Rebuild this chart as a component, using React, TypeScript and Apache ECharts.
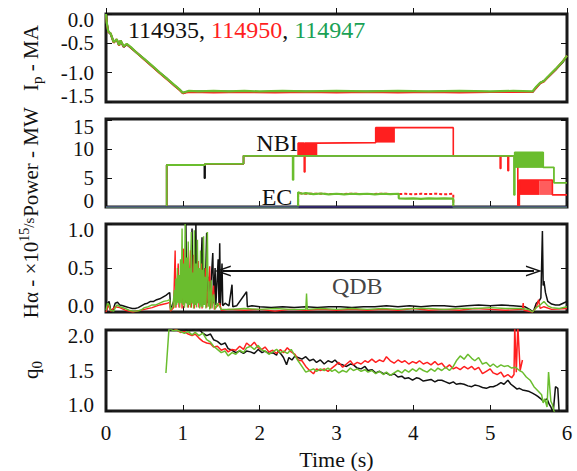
import React, { useEffect, useRef } from "react";
import * as echarts from "echarts";

const FONT = '"Liberation Serif", "Times New Roman", serif';
const BLACK = "#111111";
const RED = "#ff1f1f";
const GREEN = "#6abd2e";
const GREEN_TEXT = "#1aa155";

const shots = ["114935", "114950", "114947"];
const xTicks = [0, 1, 2, 3, 4, 5, 6];

// Panel 1: plasma current (MA)
const ip114935 = [[0,0],[0.01,-0.16],[0.03,-0.3],[0.06,-0.34],[0.1,-0.48],[0.14,-0.44],[0.17,-0.53],[0.19,-0.46],[0.23,-0.56],[0.27,-0.52],[0.32,-0.57],[0.4,-0.66],[0.5,-0.77],[0.6,-0.89],[0.7,-1.0],[0.8,-1.11],[0.9,-1.23],[0.96,-1.29],[1.0,-1.35],[1.04,-1.33],[1.1,-1.32],[1.5,-1.32],[2.0,-1.33],[2.5,-1.32],[3.0,-1.33],[3.5,-1.32],[4.0,-1.33],[4.5,-1.32],[5.0,-1.33],[5.55,-1.33],[5.6,-1.25],[5.65,-1.18],[5.7,-1.14],[5.75,-1.08],[5.85,-0.95],[5.95,-0.81],[6.0,-0.72]];
const ip114950 = [[0,0],[0.01,-0.15],[0.03,-0.31],[0.06,-0.33],[0.1,-0.49],[0.14,-0.43],[0.17,-0.54],[0.19,-0.45],[0.23,-0.56],[0.27,-0.51],[0.32,-0.57],[0.4,-0.66],[0.5,-0.78],[0.6,-0.89],[0.7,-1.01],[0.8,-1.12],[0.9,-1.23],[0.96,-1.3],[1.0,-1.35],[1.04,-1.34],[1.1,-1.33],[1.4,-1.34],[1.8,-1.33],[2.2,-1.34],[2.6,-1.33],[3.0,-1.34],[3.4,-1.33],[3.8,-1.34],[4.2,-1.33],[4.6,-1.34],[5.0,-1.33],[5.55,-1.33],[5.6,-1.26],[5.65,-1.18],[5.7,-1.15],[5.75,-1.08],[5.85,-0.95],[5.95,-0.8],[6.0,-0.71]];
const ip114947 = [[0,0],[0.01,-0.15],[0.03,-0.3],[0.06,-0.33],[0.1,-0.48],[0.14,-0.43],[0.17,-0.53],[0.19,-0.45],[0.23,-0.55],[0.27,-0.51],[0.32,-0.56],[0.4,-0.66],[0.5,-0.77],[0.6,-0.88],[0.7,-1.0],[0.8,-1.11],[0.9,-1.22],[0.96,-1.29],[1.0,-1.34],[1.03,-1.33],[1.08,-1.31],[1.2,-1.32],[1.4,-1.31],[1.6,-1.32],[1.8,-1.31],[2.0,-1.32],[2.3,-1.31],[2.6,-1.32],[3.0,-1.31],[3.4,-1.32],[3.8,-1.31],[4.2,-1.32],[4.6,-1.31],[5.0,-1.32],[5.3,-1.31],[5.55,-1.32],[5.6,-1.24],[5.65,-1.17],[5.7,-1.14],[5.75,-1.07],[5.85,-0.94],[5.95,-0.8],[6.0,-0.71]];

// Panel 2: heating power (MW)
const nbi114935 = [[0,0],[0.79,0],[0.79,7.3],[1.28,7.3],[1.28,5.0],[1.29,5.0],[1.29,7.5],[1.79,7.5],[1.79,8.9],[5.31,8.9]];
const nbi114950 = [[0,0],[0.79,0],[0.79,7.3],[1.29,7.3],[1.29,7.5],[1.79,7.5],[1.79,8.9],[2.5,8.9],[2.5,11.1],[2.58,11.1],[2.58,6.1],[2.59,6.1],[2.59,11.1],[2.75,11.1],[2.75,11.2],[3.51,11.2],[3.51,13.8],[4.52,13.8],[4.52,8.9],[5.13,8.9],[5.13,6.7],[5.14,6.7],[5.14,8.9],[5.23,8.9],[5.23,6.3],[5.24,6.3],[5.24,8.9],[5.36,8.9],[5.36,0],[5.38,0],[5.38,4.7],[5.81,4.7],[5.81,2.1],[6.0,2.1]];
const nbi114947 = [[0,0],[0.79,0],[0.79,7.3],[1.29,7.3],[1.29,7.5],[1.79,7.5],[1.79,8.9],[2.43,8.9],[2.43,4.7],[2.44,4.7],[2.44,8.9],[5.31,8.9],[5.31,2.1],[5.32,2.1],[5.32,9.5],[5.69,9.5],[5.69,6.9],[5.83,6.9],[5.83,4.2],[6.0,4.2]];
const ec114950 = [[2.5,0],[2.5,2.4],[2.6,2.3],[2.8,2.3],[3.0,2.25],[3.2,2.3],[3.4,2.25],[3.6,2.3],[3.81,2.25],[3.9,2.3],[4.0,2.2],[4.1,2.3],[4.2,2.25],[4.3,2.3],[4.4,2.2],[4.52,2.3],[4.52,0]];
const ec114947 = [[0,0],[2.5,0],[2.5,2.55],[2.55,2.3],[2.6,2.4],[2.7,2.25],[2.8,2.35],[2.9,2.2],[3.0,2.3],[3.1,2.2],[3.2,2.3],[3.3,2.25],[3.4,2.3],[3.5,2.2],[3.6,2.3],[3.7,2.25],[3.81,2.3],[3.81,1.5],[3.9,1.45],[4.0,1.5],[4.1,1.4],[4.2,1.5],[4.3,1.45],[4.4,1.5],[4.52,1.45],[4.52,0],[6.0,0]];
// modulated beam blocks: [tStart, tEnd, low, high]
const nbiBlocks114950 = [[2.5,2.75,8.9,11.1],[3.51,3.76,11.2,13.8],[5.38,5.64,2.1,4.7]];
const nbiFadedBlocks114950 = [[5.64,5.81,2.1,4.7]];
const nbiBlocks114947 = [[5.31,5.69,6.8,9.5]];
const powerBaseline = [[0,0],[6,0]];

// Panel 3: H-alpha (1e15/s)
const ha114935 = [[0,0],[0.02,0.1],[0.04,0.12],[0.06,0.03],[0.09,0.02],[0.12,0.1],[0.15,0.11],[0.18,0.08],[0.22,0.07],[0.26,0.06],[0.3,0.05],[0.34,0.04],[0.38,0.04],[0.42,0.05],[0.46,0.07],[0.5,0.09],[0.54,0.1],[0.58,0.12],[0.62,0.12],[0.66,0.14],[0.7,0.15],[0.74,0.17],[0.78,0.19],[0.81,0.21],[0.83,0.22],[0.84,0.04],[0.86,0.07],[0.88,0.12],[0.9,0.15],[0.92,0.3],[0.93,0.12],[0.95,0.25],[0.97,0.15],[0.99,0.4],[1.0,0.1],[1.03,0.12],[1.04,1.0],[1.05,0.1],[1.08,0.3],[1.09,0.08],[1.12,0.95],[1.13,0.1],[1.15,0.4],[1.16,0.08],[1.17,1.0],[1.18,0.1],[1.21,0.45],[1.22,0.08],[1.25,0.85],[1.26,0.08],[1.28,0.5],[1.29,0.1],[1.31,0.9],[1.32,0.1],[1.34,0.4],[1.35,0.1],[1.39,0.67],[1.4,0.1],[1.42,0.5],[1.43,0.08],[1.46,0.6],[1.47,0.1],[1.48,0.78],[1.49,0.08],[1.51,0.55],[1.52,0.07],[1.55,0.1],[1.6,0.07],[1.64,0.31],[1.65,0.06],[1.7,0.07],[1.83,0.23],[1.84,0.06],[1.9,0.07],[2.0,0.06],[2.15,0.05],[2.3,0.06],[2.45,0.05],[2.6,0.06],[2.75,0.05],[2.9,0.06],[3.05,0.06],[3.2,0.05],[3.35,0.06],[3.5,0.06],[3.65,0.07],[3.8,0.06],[3.95,0.07],[4.1,0.06],[4.25,0.07],[4.4,0.07],[4.55,0.06],[4.7,0.07],[4.85,0.08],[5.0,0.07],[5.15,0.08],[5.3,0.07],[5.45,0.06],[5.53,0.02],[5.56,0.0],[5.6,0.1],[5.64,0.13],[5.66,0.16],[5.68,0.92],[5.69,0.3],[5.7,0.35],[5.72,0.22],[5.75,0.12],[5.8,0.09],[5.85,0.08],[5.9,0.08],[5.95,0.1],[6.0,0.12]];
const ha114950 = [[0,0],[0.03,0.08],[0.06,0.01],[0.12,0.06],[0.18,0.05],[0.25,0.02],[0.3,0.01],[0.35,0.0],[0.4,0.01],[0.5,0.03],[0.6,0.05],[0.7,0.08],[0.8,0.1],[0.83,0.11],[0.84,0.01],[0.88,0.05],[0.9,0.7],[0.91,0.05],[0.94,0.55],[0.95,0.05],[0.98,0.4],[0.99,0.04],[1.01,0.72],[1.02,0.05],[1.06,0.6],[1.07,0.05],[1.1,0.7],[1.11,0.05],[1.14,0.65],[1.15,0.04],[1.2,0.58],[1.21,0.05],[1.24,0.55],[1.25,0.04],[1.3,0.5],[1.31,0.05],[1.35,0.52],[1.36,0.04],[1.4,0.3],[1.41,0.03],[1.48,0.1],[1.5,0.02],[1.6,0.03],[1.8,0.02],[2.0,0.03],[2.2,0.01],[2.4,0.03],[2.6,0.02],[2.8,0.03],[3.0,0.02],[3.2,0.03],[3.4,0.02],[3.6,0.03],[3.8,0.02],[4.0,0.04],[4.2,0.02],[4.4,0.03],[4.6,0.02],[4.8,0.04],[5.0,0.03],[5.2,0.02],[5.42,0.03],[5.43,0.1],[5.44,0.02],[5.55,0.0],[5.6,0.05],[5.63,0.14],[5.65,0.04],[5.7,0.06],[5.8,0.03],[6.0,0.04]];
const ha114947 = [[0,0.02],[0.02,0.1],[0.04,0.08],[0.06,0.02],[0.1,0.01],[0.14,0.08],[0.18,0.06],[0.25,0.04],[0.3,0.02],[0.35,0.01],[0.4,0.01],[0.45,0.02],[0.5,0.05],[0.55,0.06],[0.6,0.08],[0.65,0.08],[0.7,0.1],[0.75,0.12],[0.8,0.13],[0.83,0.14],[0.84,0.02],[0.87,0.06],[0.89,0.25],[0.9,0.05],[0.91,0.38],[0.92,0.08],[0.93,0.5],[0.94,0.1],[0.95,0.42],[0.96,0.05],[0.97,0.6],[0.98,0.1],[0.99,0.95],[1.0,0.08],[1.01,0.55],[1.02,0.05],[1.03,1.0],[1.04,0.1],[1.05,0.62],[1.06,0.05],[1.07,0.8],[1.08,0.08],[1.09,0.5],[1.1,0.05],[1.11,0.91],[1.12,0.1],[1.13,0.45],[1.14,0.04],[1.15,0.93],[1.16,0.08],[1.17,0.55],[1.18,0.05],[1.19,0.82],[1.2,0.1],[1.21,0.5],[1.22,0.04],[1.23,0.7],[1.24,0.06],[1.25,0.48],[1.26,0.05],[1.27,0.86],[1.28,0.08],[1.29,0.4],[1.3,0.04],[1.32,0.91],[1.33,0.06],[1.34,0.35],[1.35,0.03],[1.37,0.36],[1.38,0.04],[1.4,0.2],[1.42,0.03],[1.45,0.1],[1.5,0.03],[1.6,0.03],[1.8,0.04],[2.0,0.03],[2.2,0.04],[2.4,0.03],[2.6,0.03],[2.61,0.21],[2.62,0.03],[2.8,0.04],[3.0,0.03],[3.2,0.04],[3.4,0.03],[3.6,0.04],[3.8,0.03],[4.0,0.04],[4.2,0.04],[4.4,0.03],[4.6,0.04],[4.8,0.04],[5.0,0.05],[5.2,0.04],[5.4,0.04],[5.5,0.03],[5.55,0.0],[5.6,0.05],[5.65,0.08],[5.7,0.12],[5.75,0.07],[5.8,0.05],[5.9,0.04],[6.0,0.06]];
const qdbArrow = [[1.52, 0.465], [5.57, 0.465]];
const qdbLabel = [3.27, 0.29];

// Panel 4: central safety factor
const q114935 = [[0.88,2.05],[0.95,2.02],[1.02,2.02],[1.07,1.99],[1.12,2.0],[1.17,2.02],[1.21,2.01],[1.26,1.96],[1.31,1.93],[1.36,1.95],[1.4,1.88],[1.45,1.86],[1.5,1.82],[1.55,1.84],[1.59,1.77],[1.64,1.75],[1.69,1.72],[1.74,1.74],[1.79,1.71],[1.83,1.74],[1.88,1.73],[1.93,1.71],[1.98,1.76],[2.03,1.72],[2.07,1.74],[2.12,1.71],[2.17,1.72],[2.22,1.69],[2.24,1.74],[2.28,1.7],[2.31,1.66],[2.35,1.57],[2.38,1.66],[2.42,1.63],[2.46,1.68],[2.5,1.66],[2.55,1.64],[2.6,1.67],[2.65,1.62],[2.7,1.64],[2.74,1.6],[2.79,1.63],[2.84,1.58],[2.89,1.62],[2.94,1.6],[2.98,1.63],[3.03,1.58],[3.08,1.57],[3.13,1.55],[3.18,1.58],[3.22,1.57],[3.27,1.53],[3.32,1.52],[3.37,1.55],[3.41,1.5],[3.46,1.51],[3.51,1.47],[3.56,1.49],[3.61,1.46],[3.65,1.47],[3.7,1.44],[3.75,1.46],[3.8,1.42],[3.85,1.43],[3.89,1.4],[3.94,1.41],[3.99,1.38],[4.04,1.41],[4.08,1.4],[4.13,1.37],[4.18,1.38],[4.23,1.39],[4.28,1.36],[4.32,1.38],[4.37,1.38],[4.42,1.36],[4.47,1.34],[4.52,1.36],[4.56,1.33],[4.61,1.34],[4.66,1.33],[4.71,1.31],[4.76,1.3],[4.8,1.32],[4.85,1.31],[4.9,1.29],[4.95,1.28],[5.0,1.3],[5.04,1.3],[5.09,1.32],[5.14,1.35],[5.18,1.33],[5.23,1.38],[5.27,1.33],[5.31,1.3],[5.35,1.27],[5.38,1.28],[5.42,1.26],[5.47,1.25],[5.51,1.24],[5.55,1.22],[5.59,1.2],[5.62,1.18],[5.66,1.15],[5.69,1.12],[5.72,1.14],[5.74,1.15],[5.77,1.08],[5.79,1.05],[5.82,0.98],[5.85,1.3],[5.88,1.28],[5.9,0.95]];
const q114950 = [[0.88,2.02],[0.92,2.0],[0.97,1.97],[1.02,1.98],[1.07,1.95],[1.12,1.93],[1.16,1.95],[1.21,1.9],[1.26,1.86],[1.31,1.84],[1.36,1.83],[1.4,1.79],[1.45,1.8],[1.5,1.75],[1.55,1.77],[1.59,1.73],[1.64,1.76],[1.69,1.75],[1.74,1.8],[1.79,1.76],[1.83,1.84],[1.88,1.8],[1.93,1.85],[1.98,1.78],[2.03,1.76],[2.07,1.79],[2.12,1.73],[2.17,1.75],[2.22,1.71],[2.27,1.76],[2.31,1.72],[2.36,1.78],[2.41,1.73],[2.46,1.7],[2.5,1.63],[2.55,1.62],[2.6,1.55],[2.65,1.5],[2.7,1.46],[2.74,1.52],[2.79,1.5],[2.84,1.52],[2.89,1.49],[2.94,1.53],[2.98,1.56],[3.03,1.6],[3.08,1.54],[3.13,1.58],[3.18,1.62],[3.22,1.57],[3.27,1.6],[3.32,1.58],[3.37,1.62],[3.41,1.6],[3.46,1.64],[3.51,1.6],[3.56,1.63],[3.61,1.61],[3.65,1.67],[3.7,1.62],[3.75,1.59],[3.8,1.63],[3.85,1.6],[3.89,1.62],[3.94,1.58],[3.99,1.61],[4.04,1.59],[4.08,1.62],[4.13,1.58],[4.18,1.6],[4.23,1.57],[4.28,1.61],[4.32,1.57],[4.37,1.59],[4.42,1.53],[4.47,1.57],[4.52,1.52],[4.56,1.54],[4.61,1.51],[4.66,1.55],[4.71,1.52],[4.76,1.55],[4.8,1.51],[4.85,1.54],[4.9,1.46],[4.95,1.49],[5.0,1.52],[5.04,1.47],[5.09,1.45],[5.14,1.48],[5.18,1.42],[5.23,1.45],[5.28,1.41],[5.31,1.45],[5.32,2.05],[5.34,1.48],[5.36,2.05],[5.39,1.5],[5.42,1.63]];
const q114947 = [[0.78,1.47],[0.82,2.02],[0.88,1.99],[0.92,2.0],[0.97,1.98],[1.02,1.96],[1.07,1.98],[1.12,1.94],[1.16,1.97],[1.21,1.93],[1.26,1.96],[1.31,1.88],[1.36,1.85],[1.4,1.8],[1.45,1.76],[1.5,1.72],[1.55,1.74],[1.59,1.68],[1.64,1.72],[1.69,1.7],[1.74,1.75],[1.79,1.72],[1.83,1.78],[1.88,1.8],[1.93,1.76],[1.98,1.81],[2.03,1.75],[2.07,1.74],[2.12,1.7],[2.17,1.73],[2.22,1.76],[2.27,1.72],[2.31,1.74],[2.36,1.71],[2.41,1.76],[2.46,1.68],[2.5,1.62],[2.55,1.55],[2.6,1.48],[2.65,1.5],[2.7,1.52],[2.74,1.49],[2.79,1.52],[2.84,1.5],[2.89,1.53],[2.94,1.49],[2.98,1.51],[3.03,1.47],[3.08,1.5],[3.13,1.48],[3.18,1.53],[3.22,1.5],[3.27,1.52],[3.32,1.49],[3.37,1.51],[3.41,1.48],[3.46,1.5],[3.51,1.46],[3.56,1.49],[3.61,1.45],[3.65,1.48],[3.7,1.44],[3.75,1.47],[3.8,1.5],[3.85,1.47],[3.89,1.51],[3.94,1.48],[3.99,1.52],[4.04,1.49],[4.08,1.53],[4.13,1.5],[4.18,1.48],[4.23,1.52],[4.28,1.49],[4.32,1.53],[4.37,1.5],[4.42,1.54],[4.47,1.5],[4.52,1.55],[4.56,1.62],[4.61,1.68],[4.66,1.64],[4.71,1.7],[4.76,1.65],[4.8,1.62],[4.85,1.66],[4.9,1.58],[4.95,1.6],[5.0,1.55],[5.04,1.58],[5.09,1.54],[5.14,1.57],[5.18,1.55],[5.23,1.56],[5.28,1.53],[5.33,1.54],[5.38,1.5],[5.42,1.48],[5.47,1.42],[5.52,1.38],[5.57,1.3],[5.62,1.25],[5.67,1.2],[5.69,1.1],[5.71,1.15],[5.74,1.05],[5.76,1.48],[5.79,1.12],[5.81,1.08],[5.83,1.0],[5.86,0.95]];

const GRID_LEFT = 106;
const GRID_WIDTH = 461;
const panels = [
  { top: 14, height: 88, min: -1.5, max: 0, topLabel: 0, interval: 0.5, digits: 1 },
  { top: 119, height: 88, min: 0, max: 15.3, topLabel: 15, interval: 5, digits: 0 },
  { top: 224, height: 88, min: 0, max: 1.0, topLabel: 1.0, interval: 0.5, digits: 1 },
  { top: 330, height: 81, min: 1.0, max: 2.0, topLabel: 2.0, interval: 0.5, digits: 1 },
];

function blockRenderer(color: string, opacity: number) {
  return (_params: any, api: any) => {
    const p0 = api.coord([api.value(0), api.value(3)]);
    const p1 = api.coord([api.value(1), api.value(2)]);
    return {
      type: "rect",
      shape: { x: p0[0], y: p0[1], width: p1[0] - p0[0], height: p1[1] - p0[1] },
      style: { fill: color, opacity },
    };
  };
}

function line(name: string, data: number[][], panel: number, color: string, width = 1.6, extra: any = {}) {
  return {
    name,
    type: "line",
    xAxisIndex: panel,
    yAxisIndex: panel * 2,
    data,
    showSymbol: false,
    symbol: "none",
    silent: true,
    clip: true,
    lineStyle: { color, width, ...(extra.lineStyle || {}) },
    z: extra.z ?? 2,
  };
}

export default function App() {
  const ref = useRef<HTMLDivElement>(null);
  useEffect(() => {
    if (!ref.current) return;
    const chart = echarts.init(ref.current, undefined, { renderer: "svg" });
    const labelStyle = { fontFamily: FONT, fontSize: 21, color: BLACK };
    const grid = panels.map((p) => ({
      left: GRID_LEFT, width: GRID_WIDTH, top: p.top, height: p.height,
      show: true, borderWidth: 3, borderColor: "#1a1a1a", backgroundColor: "transparent",
    }));
    const xAxis = panels.map((_p, i) => ({
      type: "value", gridIndex: i, min: xTicks[0], max: xTicks[xTicks.length - 1], interval: 1,
      axisLine: { show: false },
      axisTick: { show: true, inside: true, length: 6, lineStyle: { color: BLACK, width: 1 } },
      axisLabel: { show: i === 3, margin: 11, ...labelStyle },
      splitLine: { show: false },
      name: i === 3 ? "Time (s)" : "",
      nameLocation: "middle",
      nameGap: 37,
      nameTextStyle: { fontFamily: FONT, fontSize: 22, color: BLACK },
    }));
    const rich = {
      hi: { fontFamily: FONT, fontSize: 21, color: BLACK, padding: [12, 0, 0, 0] },
      lo: { fontFamily: FONT, fontSize: 21, color: BLACK, padding: [0, 0, 12, 0] },
    };
    const yAxis: any[] = [];
    panels.forEach((p, i) => {
      const base = {
        type: "value", gridIndex: i, min: p.min, max: p.max, interval: p.interval,
        axisLine: { show: false },
        axisTick: { show: true, inside: true, length: 6, lineStyle: { color: BLACK, width: 1 } },
        splitLine: { show: false },
      };
      yAxis.push({
        ...base, position: "left",
        axisLabel: {
          show: true, margin: 12, showMaxLabel: i !== 1, ...labelStyle, rich,
          formatter: (v: number) => {
            const txt = v.toFixed(p.digits);
            if (Math.abs(v - p.min) < 1e-9) return `{lo|${txt}}`;
            if (Math.abs(v - p.topLabel) < 1e-9) return `{hi|${txt}}`;
            return txt;
          },
        },
      });
      yAxis.push({ ...base, position: "right", axisLabel: { show: false } });
    });

    const chevron = "path://M5,0 L10,13 L8.6,13 L5,3.6 L1.4,13 L0,13 Z";

    const series: any[] = [
      line("Ip 114935", ip114935, 0, BLACK, 2),
      line("Ip 114950", ip114950, 0, RED, 2),
      line("Ip 114947", ip114947, 0, GREEN, 2.2),

      line("NBI 114935", nbi114935, 1, BLACK, 1.6),
      line("NBI 114950", nbi114950, 1, RED, 1.6),
      line("EC 114950", ec114950, 1, RED, 2, { lineStyle: { type: [3, 2] } }),
      {
        type: "custom", xAxisIndex: 1, yAxisIndex: 2, silent: true, z: 2,
        renderItem: blockRenderer(RED, 1), encode: { x: [0, 1], y: [2, 3] }, data: nbiBlocks114950,
      },
      {
        type: "custom", xAxisIndex: 1, yAxisIndex: 2, silent: true, z: 2,
        renderItem: blockRenderer(RED, 0.72), encode: { x: [0, 1], y: [2, 3] }, data: nbiFadedBlocks114950,
      },
      line("NBI 114947", nbi114947, 1, GREEN, 1.8, { z: 3 }),
      line("EC 114947", ec114947, 1, GREEN, 2.2, { z: 3 }),
      {
        type: "custom", xAxisIndex: 1, yAxisIndex: 2, silent: true, z: 3,
        renderItem: blockRenderer(GREEN, 1), encode: { x: [0, 1], y: [2, 3] }, data: nbiBlocks114947,
      },
      line("baseline", powerBaseline, 1, "#3b2f8c", 1.5, { z: 4 }),

      line("Ha 114935", ha114935, 2, BLACK, 1.5),
      line("Ha 114950", ha114950, 2, RED, 1.4),
      line("Ha 114947", ha114947, 2, GREEN, 1.4, { z: 3 }),
      {
        type: "line", xAxisIndex: 2, yAxisIndex: 4, data: [], silent: true, z: 5,
        markLine: {
          silent: true,
          animation: false,
          symbol: [chevron, chevron],
          symbolSize: [11, 16],
          label: { show: false },
          lineStyle: { color: BLACK, width: 2, type: "solid" },
          itemStyle: { color: "#555" },
          emphasis: { disabled: true },
          data: [[{ coord: qdbArrow[0] }, { coord: qdbArrow[1] }]],
        },
      },
      {
        type: "scatter", xAxisIndex: 2, yAxisIndex: 4, silent: true, z: 5,
        symbolSize: 0, data: [qdbLabel],
        label: { show: true, position: "inside", formatter: "QDB", fontFamily: FONT, fontSize: 24, color: BLACK },
      },

      line("q0 114935", q114935, 3, BLACK, 1.5),
      line("q0 114950", q114950, 3, RED, 1.5),
      line("q0 114947", q114947, 3, GREEN, 1.5, { z: 3 }),
    ];

    const nameStyle = { fontFamily: FONT, fontSize: 21, fill: BLACK };
    const graphic: any[] = [
      {
        type: "text", x: 128, y: 30, silent: true,
        style: {
          text: `{k|${shots[0]}, }{r|${shots[1]}}{k|, }{g|${shots[2]}}`,
          align: "left", verticalAlign: "middle", fontFamily: FONT, fontSize: 24,
          rich: {
            k: { fontFamily: FONT, fontSize: 24, fill: BLACK, color: BLACK },
            r: { fontFamily: FONT, fontSize: 24, fill: RED, color: RED },
            g: { fontFamily: FONT, fontSize: 24, fill: GREEN_TEXT, color: GREEN_TEXT },
          },
        },
      },
      { type: "text", x: 277, y: 143, silent: true, style: { text: "NBI", align: "center", verticalAlign: "middle", fontFamily: FONT, fontSize: 24, fill: BLACK } },
      { type: "text", x: 277, y: 197, silent: true, style: { text: "EC", align: "center", verticalAlign: "middle", fontFamily: FONT, fontSize: 24, fill: BLACK } },
      {
        type: "text", x: 31, y: 58, rotation: Math.PI / 2, silent: true,
        style: {
          text: "{a|I}{s|p}{a| - MA}", align: "center", verticalAlign: "middle", ...nameStyle,
          rich: { a: { ...nameStyle }, s: { fontFamily: FONT, fontSize: 15, padding: [11, 0, 0, 0] } },
        },
      },
      {
        type: "text", x: 31, y: 162, rotation: Math.PI / 2, silent: true,
        style: { text: "Power - MW", align: "center", verticalAlign: "middle", ...nameStyle },
      },
      {
        type: "text", x: 31, y: 268, rotation: Math.PI / 2, silent: true,
        style: {
          text: "{a|Hα - ×10}{u|15}{v|/s}", align: "center", verticalAlign: "middle", ...nameStyle,
          rich: {
            a: { ...nameStyle },
            u: { fontFamily: FONT, fontSize: 14, padding: [0, 0, 13, 0] },
            v: { fontFamily: FONT, fontSize: 15, padding: [0, 0, 4, 0] },
          },
        },
      },
      {
        type: "text", x: 31, y: 370, rotation: Math.PI / 2, silent: true,
        style: {
          text: "{a|q}{s|0}", align: "center", verticalAlign: "middle", ...nameStyle,
          rich: { a: { ...nameStyle }, s: { fontFamily: FONT, fontSize: 15, padding: [11, 0, 0, 0] } },
        },
      },
    ];

    chart.setOption({
      animation: false,
      backgroundColor: "#ffffff",
      grid,
      xAxis,
      yAxis,
      series,
      graphic,
    });
    return () => chart.dispose();
  }, []);

  return <div ref={ref} style={{ position: "fixed", left: 0, top: 0, width: 577, height: 471 }} />;
}
